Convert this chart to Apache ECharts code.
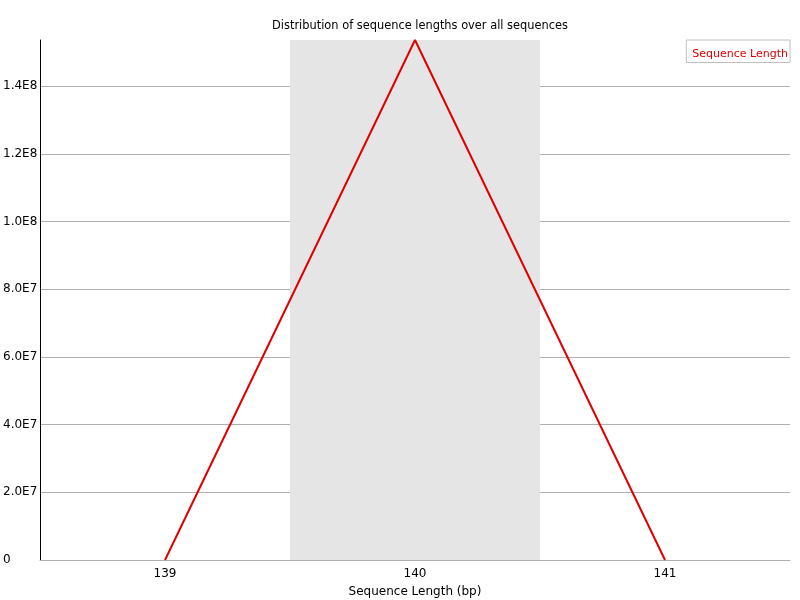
<!DOCTYPE html>
<html>
<head>
<meta charset="utf-8">
<script src="https://cdn.jsdelivr.net/npm/echarts@6/dist/echarts.min.js"></script>
<style>
  html, body { margin: 0; padding: 0; background: #fff; }
  #chart { width: 800px; height: 600px; }
</style>
</head>
<body>
<div id="chart"></div>
<script>
var lengths = ['139', '140', '141'];
var counts = [0, 153600000, 0];
var seriesName = 'Sequence Length';

// 1.4E8 style labels, as in the original report
function sci(v) {
  if (v === 0) return '0';
  var e = Math.floor(Math.log10(v) + 1e-9);
  return (v / Math.pow(10, e)).toFixed(1) + 'E' + e;
}

var chart = echarts.init(document.getElementById('chart'));
chart.setOption({
  animation: false,
  textStyle: { fontFamily: 'DejaVu Sans' },
  title: {
    text: 'Distribution of sequence lengths over all sequences',
    left: 415,
    textAlign: 'center',
    top: 16,
    textStyle: { fontSize: 11.4, fontWeight: 'normal', color: '#000' }
  },
  legend: {
    right: 10,
    top: 40,
    icon: 'none',
    itemWidth: 0,
    itemGap: 0,
    padding: [7, 2, 3, 1],
    borderColor: '#c0c0c0',
    borderWidth: 1,
    textStyle: { color: '#e00000', fontSize: 11 },
    data: [seriesName]
  },
  grid: { left: 40, right: 10, top: 40, bottom: 40, outerBoundsMode: 'none', containLabel: false },
  xAxis: {
    type: 'category',
    data: lengths,
    boundaryGap: true,
    name: 'Sequence Length (bp)',
    nameLocation: 'middle',
    nameGap: 26,
    nameTextStyle: { fontSize: 12, color: '#000' },
    axisLine: { lineStyle: { color: '#b0b0b0', width: 1 } },
    axisTick: { show: false },
    axisLabel: { color: '#000', fontSize: 12, margin: 8 },
    splitLine: { show: false },
    splitArea: { show: true, areaStyle: { color: ['rgba(0,0,0,0)', '#e5e5e5'] } }
  },
  yAxis: {
    type: 'value',
    min: 0,
    max: 'dataMax',
    interval: 20000000,
    axisLine: { show: true, lineStyle: { color: '#000', width: 1 } },
    axisTick: { show: false },
    axisLabel: {
      color: '#000',
      fontSize: 12,
      align: 'left',
      margin: 37,
      showMaxLabel: false,
      formatter: sci
    },
    splitLine: { showMaxLine: false, lineStyle: { color: '#b0b0b0', width: 1 } }
  },
  series: [{
    name: seriesName,
    type: 'line',
    data: counts,
    symbol: 'none',
    lineStyle: { color: '#e00000', width: 2 },
    itemStyle: { color: '#e00000' }
  }]
});
</script>
</body>
</html>
